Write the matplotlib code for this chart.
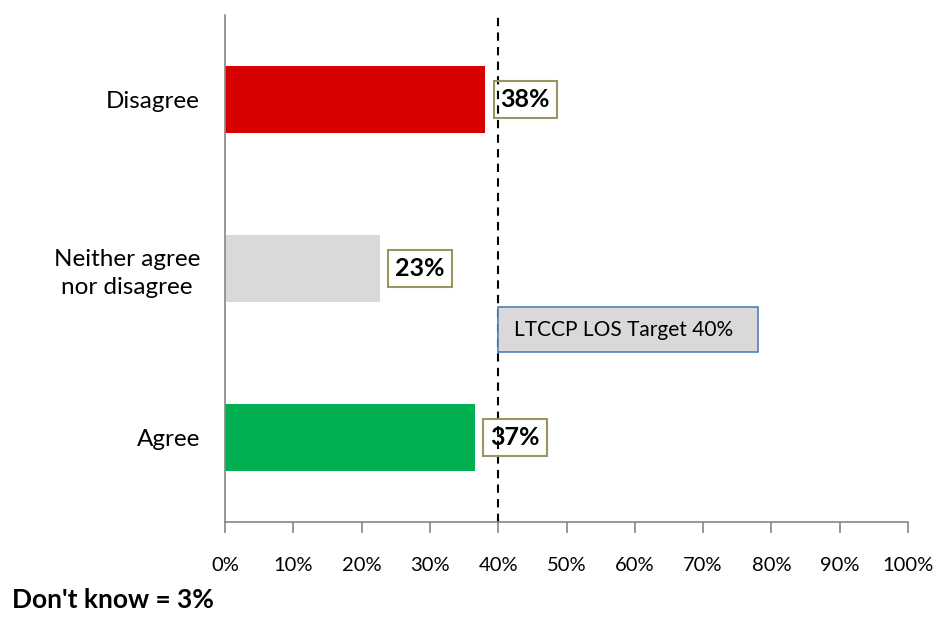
import matplotlib
matplotlib.use("Agg")
import matplotlib.pyplot as plt
from matplotlib.patches import Rectangle

plt.rcParams['font.family'] = ['Lato', 'DejaVu Sans']

# datos del grafico
categorias = ['Agree', 'Neither agree\nnor disagree', 'Disagree']
valores = [0.366, 0.227, 0.381]
etiquetas = ['37%', '23%', '38%']
colores = ['#00b050', '#d9d9d9', '#d90000']
objetivo = 0.40
texto_objetivo = 'LTCCP LOS Target 40%'
ticks_x = [0, 0.1, 0.2, 0.3, 0.4, 0.5, 0.6, 0.7, 0.8, 0.9, 1.0]
nota = "Don't know = 3%"

fig = plt.figure(figsize=(9.35, 6.24), dpi=100)
ax = fig.add_axes([225/935, 1-522/624, 683/935, 507/624])

y = range(len(categorias))
ax.barh(y, valores, height=0.4, color=colores)

# etiquetas de datos con caja
for i in y:
    ax.annotate(etiquetas[i], xy=(valores[i], i), xytext=(11, 0), textcoords='offset points',
                ha='left', va='center', fontsize=18, fontweight='bold',
                bbox=dict(boxstyle='square,pad=0.28', fc='none', ec='#9c9461', lw=1.5))

# linea objetivo
ax.axvline(objetivo, color='black', linestyle=(0, (4, 3)), lw=1.5, zorder=1)
ax.add_patch(Rectangle((objetivo, 0.506), 0.38, 0.266, fc='#d9d9d9', ec='#4f81bd', lw=1.2, zorder=3))
ax.text(objetivo + 0.023, 0.639, texto_objetivo, ha='left', va='center', fontsize=15, zorder=4)

ax.set_xlim(0, 1)
ax.set_ylim(-0.5, 2.5)
ax.set_xticks(ticks_x)
ax.set_xticklabels(['%d%%' % round(t*100) for t in ticks_x], fontsize=14.5)
ax.set_yticks(list(y))
ax.set_yticklabels(categorias, fontsize=17.5, multialignment='center', linespacing=1.4)
ax.tick_params(axis='x', length=8, width=1.2, color='#868686', pad=17, direction='out')
ax.tick_params(axis='y', length=0, pad=18)
for s in ['top', 'right']:
    ax.spines[s].set_visible(False)
for s in ['left', 'bottom']:
    ax.spines[s].set_color('#868686')
    ax.spines[s].set_linewidth(1.2)

fig.text(12/935, 1-600/624, nota, ha='left', va='center', fontsize=19, fontweight='bold')

fig.savefig('out.png', dpi=100)
